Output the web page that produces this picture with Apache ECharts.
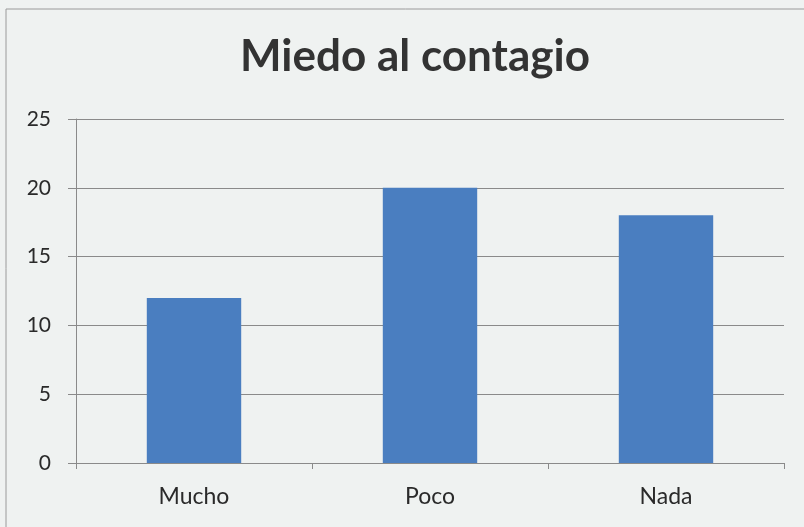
<!DOCTYPE html>
<html><head><meta charset="utf-8">
<script src="https://cdn.jsdelivr.net/npm/echarts@6/dist/echarts.min.js"></script>
<style>html,body{margin:0;padding:0;background:#eff2f1;}#c{width:804px;height:527px;}</style>
</head><body><div id="c"></div>
<script>
const title = "Miedo al contagio";
const categories = ["Mucho", "Poco", "Nada"];
const values = [12, 20, 18];

const chart = echarts.init(document.getElementById('c'));
chart.setOption({
  backgroundColor: '#eff2f1',
  animation: false,
  title: {
    text: title, left: 410, top: 30, textAlign: 'center',
    textStyle: {fontFamily: 'Lato', fontWeight: 'bold', fontSize: 44, color: '#333'}
  },
  graphic: [{
    type: 'rect', shape: {x: 6, y: 9, width: 820, height: 540},
    style: {fill: 'none', stroke: '#9a9a9a', lineWidth: 1}, silent: true
  }],
  grid: {left: 76, right: 20, top: 119, bottom: 64},
  xAxis: {
    type: 'category', data: categories,
    axisLine: {lineStyle: {color: '#8a8a8a', width: 1}},
    axisTick: {show: true, length: 6, lineStyle: {color: '#8a8a8a'}},
    axisLabel: {fontFamily: 'Lato', fontSize: 23, color: '#2a2a2a', margin: 22}
  },
  yAxis: {
    type: 'value', min: 0, max: 25, interval: 5,
    axisLine: {show: true, lineStyle: {color: '#8a8a8a', width: 1}},
    axisTick: {show: true, length: 8, lineStyle: {color: '#8a8a8a'}},
    axisLabel: {fontFamily: 'Lato', fontSize: 21, color: '#2a2a2a', margin: 25},
    splitLine: {lineStyle: {color: '#8a8a8a', width: 1}}
  },
  series: [{
    type: 'bar', data: values, barWidth: '40%',
    itemStyle: {color: '#4a7ec0'}
  }]
});
</script></body></html>
